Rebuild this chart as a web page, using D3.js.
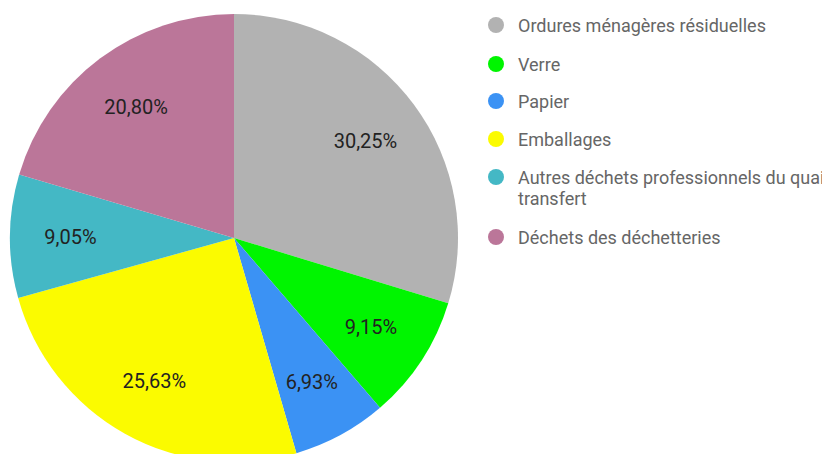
<!DOCTYPE html>
<html>
<head>
<meta charset="utf-8">
<script src="https://cdn.jsdelivr.net/npm/d3@7"></script>
<style>
  html, body { margin: 0; padding: 0; background: #fff; }
  svg { display: block; font-family: Roboto, sans-serif; }
</style>
</head>
<body>
<svg id="chart" width="822" height="454"></svg>
<script>
// Waste stream shares (percent)
const categories = [
  "Ordures ménagères résiduelles",
  "Verre",
  "Papier",
  "Emballages",
  "Autres déchets professionnels du quai de transfert",
  "Déchets des déchetteries"
];
const values = [30.25, 9.15, 6.93, 25.63, 9.05, 20.80];
const valueLabels = ["30,25%", "9,15%", "6,93%", "25,63%", "9,05%", "20,80%"];
const legendLines = [
  ["Ordures ménagères résiduelles"],
  ["Verre"],
  ["Papier"],
  ["Emballages"],
  ["Autres déchets professionnels du quai de", "transfert"],
  ["Déchets des déchetteries"]
];
const colors = ["#b2b2b2", "#00f500", "#3b92f4", "#fbfb00", "#44b8c5", "#bb7699"];

const svg = d3.select("#chart");
const cx = 234, cy = 238, radius = 224;

const pie = d3.pie().sort(null).value(d => d);
const arcs = pie(values);
const arc = d3.arc().innerRadius(0).outerRadius(radius);
const labelArc = d3.arc().innerRadius(radius * 0.73).outerRadius(radius * 0.73);

const g = svg.append("g").attr("transform", `translate(${cx},${cy})`);

g.selectAll("path.slice")
  .data(arcs)
  .join("path")
  .attr("class", "slice")
  .attr("d", arc)
  .attr("fill", (d, i) => colors[i]);

g.selectAll("text.value")
  .data(arcs)
  .join("text")
  .attr("class", "value")
  .attr("transform", d => `translate(${labelArc.centroid(d)})`)
  .attr("text-anchor", "middle")
  .attr("dominant-baseline", "central")
  .attr("font-size", 20)
  .attr("fill", "#222")
  .text((d, i) => valueLabels[i]);

// Legend
const legend = svg.append("g").attr("transform", "translate(496,0)");
const rowY = [25, 64, 101, 139, 177, 237];
const row = legend.selectAll("g.row")
  .data(categories)
  .join("g")
  .attr("class", "row")
  .attr("transform", (d, i) => `translate(0,${rowY[i]})`);

row.append("circle")
  .attr("r", 8)
  .attr("fill", (d, i) => colors[i]);

row.each(function(d, i) {
  const t = d3.select(this).append("text")
    .attr("x", 22)
    .attr("font-size", 18)
    .attr("fill", "#666");
  legendLines[i].forEach((line, j) => {
    t.append("tspan")
      .attr("x", 22)
      .attr("y", j * 21)
      .attr("dominant-baseline", "central")
      .text(line);
  });
});
</script>
</body>
</html>
